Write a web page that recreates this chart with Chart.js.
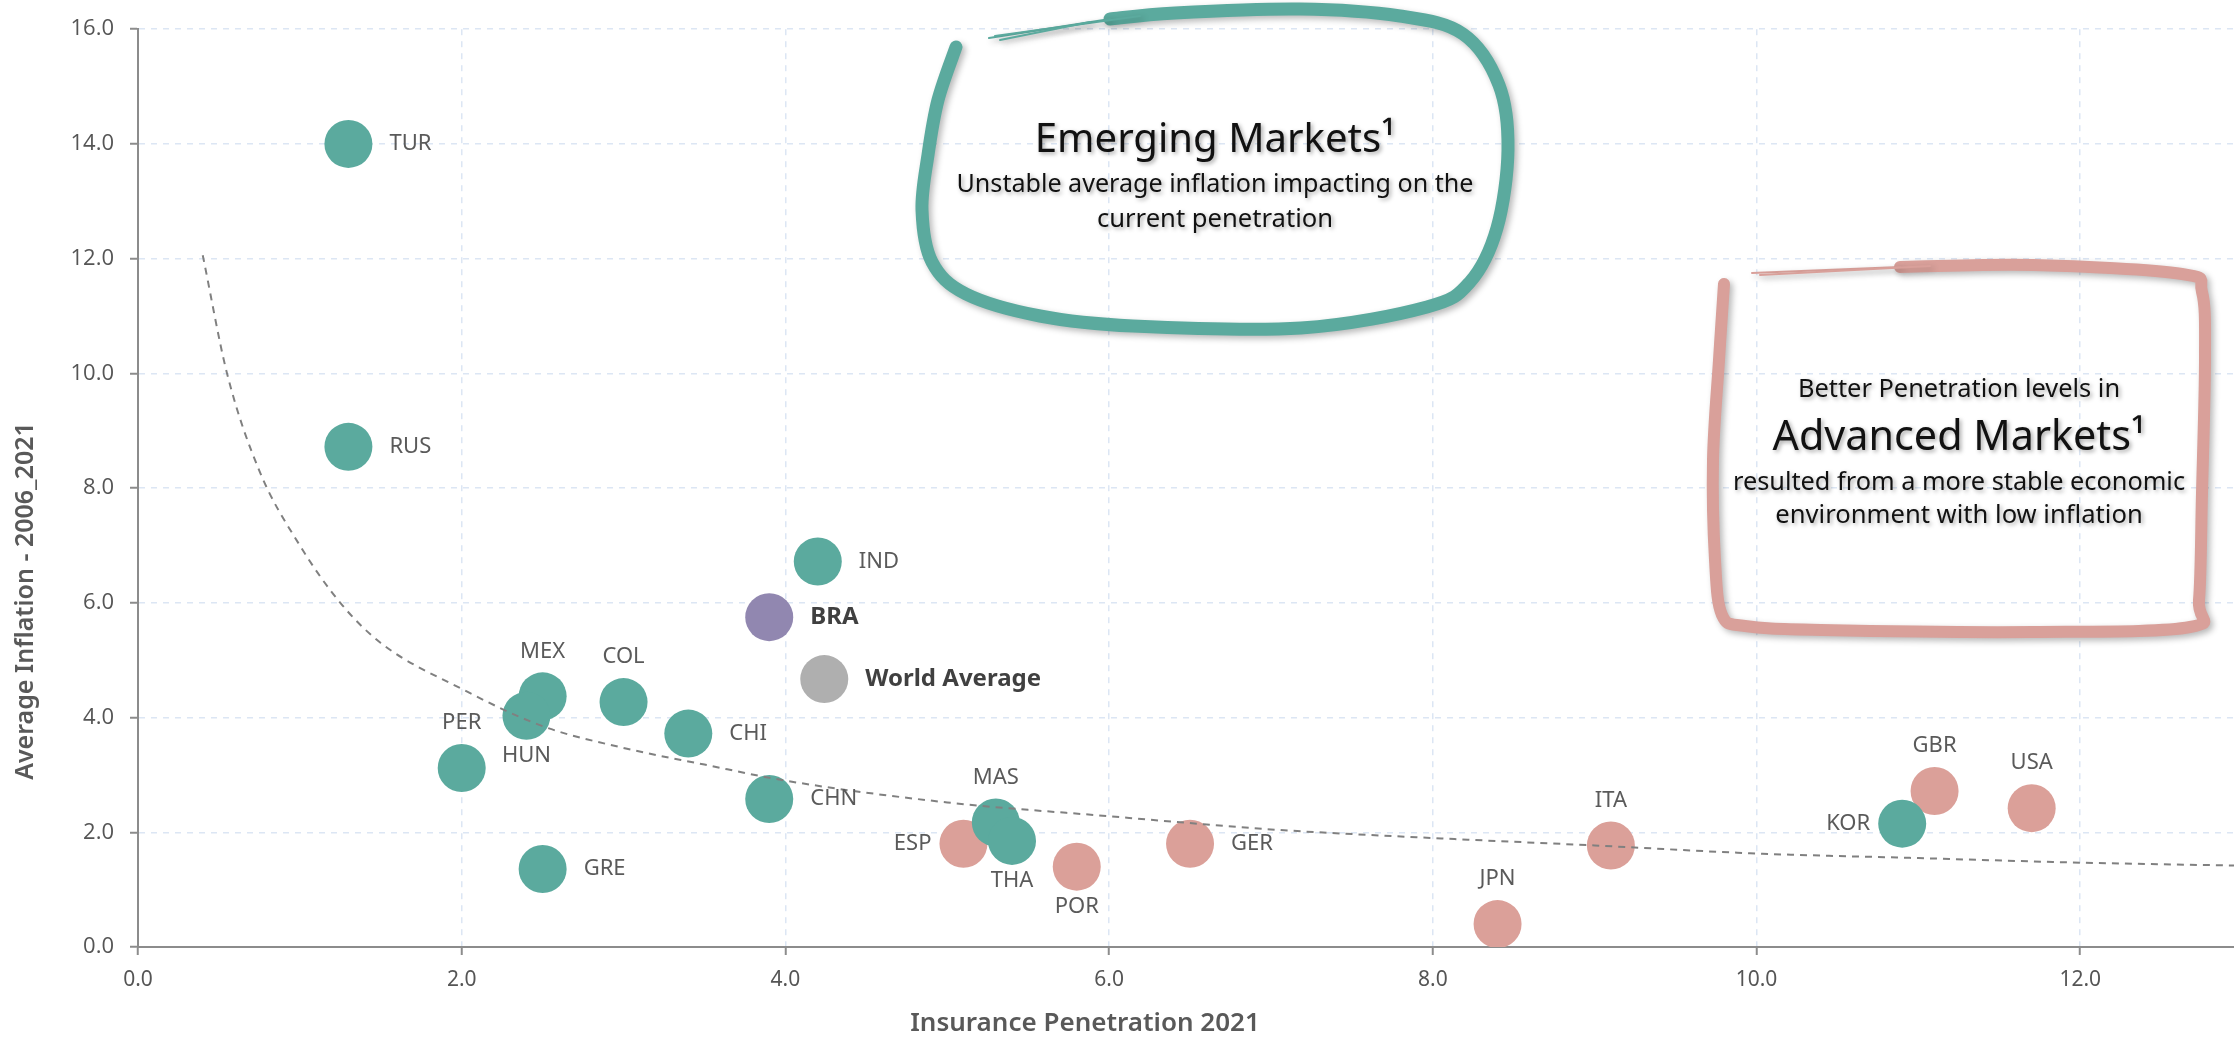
<!DOCTYPE html>
<html>
<head>
<meta charset="utf-8">
<script src="https://cdn.jsdelivr.net/npm/chart.js@4.4.0/dist/chart.umd.min.js"></script>
<style>
  html, body { margin: 0; padding: 0; background: #fff; overflow: hidden; }
  #wrap { width: 2234px; height: 1037px; position: relative; }
</style>
</head>
<body>
<div id="wrap"><canvas id="myChart"></canvas></div>
<script>
// countries and their values
const countries   = ['TUR', 'RUS', 'IND', 'BRA', 'World Average', 'MEX', 'HUN', 'COL', 'CHI', 'PER', 'GRE', 'CHN', 'MAS', 'THA', 'KOR',
                     'ESP', 'POR', 'GER', 'JPN', 'ITA', 'GBR', 'USA'];
const penetration = [1.3, 1.3, 4.2, 3.9, 4.24, 2.5, 2.4, 3.0, 3.4, 2.0, 2.5, 3.9, 5.3, 5.4, 10.9,
                     5.1, 5.8, 6.5, 8.4, 9.1, 11.1, 11.7];
const inflation   = [14.0, 8.72, 6.72, 5.75, 4.67, 4.37, 4.03, 4.27, 3.72, 3.12, 1.36, 2.58, 2.17, 1.85, 2.15,
                     1.80, 1.40, 1.80, 0.40, 1.77, 2.72, 2.42];
const groups      = ['EM', 'EM', 'EM', 'BRA', 'WORLD', 'EM', 'EM', 'EM', 'EM', 'EM', 'EM', 'EM', 'EM', 'EM', 'EM',
                     'AM', 'AM', 'AM', 'AM', 'AM', 'AM', 'AM'];

// dashed trend curve
const trendX = [0.40, 0.55, 0.75, 1.0, 1.25, 1.5, 2.0, 2.5, 3.0, 3.5, 4.0, 5.0, 6.0, 7.0, 8.0, 9.0, 10.0, 11.0, 12.0, 12.95];
const trendY = [12.06, 10.0, 8.3, 7.0, 6.0, 5.3, 4.5, 3.85, 3.47, 3.18, 2.9, 2.52, 2.28, 2.05, 1.9, 1.77, 1.63, 1.55, 1.47, 1.42];

const xMax = 12.95;
const yMax = 16;
const tickStep = 2;

const colors = { EM: '#5BAA9E', AM: '#DBA099', BRA: '#9187B0', WORLD: '#AFAFAF' };

// where each label sits relative to its bubble
const labelSide = {
  TUR: 'right', RUS: 'right', IND: 'right', BRA: 'right', 'World Average': 'right', CHI: 'right', CHN: 'right', GRE: 'right', GER: 'right',
  MEX: 'above', COL: 'above', PER: 'above', MAS: 'above', ITA: 'above', JPN: 'above', GBR: 'above', USA: 'above',
  HUN: 'below', THA: 'below', POR: 'below',
  ESP: 'left', KOR: 'left'
};

function pointsFor(group) {
  const out = [];
  countries.forEach((c, i) => {
    if (groups[i] === group) out.push({ x: penetration[i], y: inflation[i], name: c });
  });
  return out;
}

function smoothPath(ctx, pts) {
  ctx.beginPath();
  ctx.moveTo(pts[0][0], pts[0][1]);
  for (let i = 0; i < pts.length - 1; i++) {
    const p0 = pts[i - 1] || pts[i];
    const p1 = pts[i];
    const p2 = pts[i + 1];
    const p3 = pts[i + 2] || p2;
    ctx.bezierCurveTo(p1[0] + (p2[0] - p0[0]) / 6, p1[1] + (p2[1] - p0[1]) / 6,
                      p2[0] - (p3[0] - p1[0]) / 6, p2[1] - (p3[1] - p1[1]) / 6,
                      p2[0], p2[1]);
  }
}

// set a font so the text gets the given width
function fitFont(ctx, text, weight, family, width) {
  ctx.font = weight + ' 100px ' + family;
  const size = 100 * width / ctx.measureText(text).width;
  ctx.font = weight + ' ' + size.toFixed(1) + 'px ' + family;
}

const pointLabels = {
  id: 'pointLabels',
  afterDatasetsDraw(chart) {
    const ctx = chart.ctx;
    chart.data.datasets.forEach((ds, i) => {
      if (ds.type === 'line') return;
      const meta = chart.getDatasetMeta(i);
      meta.data.forEach((pt, j) => {
        const name = ds.data[j].name;
        const side = labelSide[name] || 'right';
        const bold = name === 'BRA' || name === 'World Average';
        ctx.save();
        ctx.font = bold ? 'bold 24px "Noto Sans"' : '22px "Noto Sans"';
        ctx.fillStyle = bold ? '#404040' : '#5a5a5a';
        ctx.textBaseline = 'middle';
        let x = pt.x, y = pt.y;
        if (side === 'right') { ctx.textAlign = 'left'; x += 41; }
        if (side === 'left') { ctx.textAlign = 'right'; x -= 32; }
        if (side === 'above') { ctx.textAlign = 'center'; y -= 45; }
        if (side === 'below') { ctx.textAlign = 'center'; y += 40; }
        ctx.fillText(name, x, y);
        ctx.restore();
      });
    });
  }
};

const frames = {
  id: 'frames',
  afterDatasetsDraw(chart) {
    const ctx = chart.ctx;
    ctx.save();
    ctx.lineCap = 'round';
    ctx.lineJoin = 'round';
    ctx.shadowColor = 'rgba(0,0,0,0.28)';
    ctx.shadowBlur = 6;
    ctx.shadowOffsetX = 3;
    ctx.shadowOffsetY = 3;

    // emerging markets bubble
    ctx.strokeStyle = '#5BAA9E';
    ctx.lineWidth = 13;
    smoothPath(ctx, [[956, 47], [938, 100], [928, 155], [922, 210], [932, 262], [966, 294], [1040, 316], [1133, 326],
                     [1301, 328], [1427, 307], [1470, 282], [1497, 228], [1508, 150], [1499, 85], [1463, 34], [1400, 16],
                     [1300, 9], [1175, 13], [1110, 19]]);
    ctx.stroke();
    ctx.lineWidth = 2;
    [[1110, 19, 989, 38], [1140, 16, 995, 36], [1090, 22, 1000, 40]].forEach(l => {
      ctx.beginPath(); ctx.moveTo(l[0], l[1]); ctx.lineTo(l[2], l[3]); ctx.stroke();
    });

    // advanced markets frame
    ctx.strokeStyle = '#D9A09A';
    ctx.lineWidth = 12;
    smoothPath(ctx, [[1724, 284], [1719, 360], [1713, 460], [1715, 560], [1722, 615], [1745, 626], [1821, 630], [2033, 632],
                     [2190, 627], [2199, 600], [2202, 493], [2205, 360], [2202, 292], [2182, 274], [2033, 265], [1900, 267]]);
    ctx.stroke();
    ctx.lineWidth = 2;
    [[1900, 267, 1752, 273], [1930, 266, 1760, 275]].forEach(l => {
      ctx.beginPath(); ctx.moveTo(l[0], l[1]); ctx.lineTo(l[2], l[3]); ctx.stroke();
    });
    ctx.restore();

    // frame texts
    ctx.save();
    ctx.fillStyle = '#111';
    ctx.textAlign = 'center';
    ctx.textBaseline = 'alphabetic';
    ctx.shadowColor = 'rgba(0,0,0,0.35)';
    ctx.shadowBlur = 4;
    ctx.shadowOffsetX = 2;
    ctx.shadowOffsetY = 2;
    const fam = '"Noto Sans"';
    [
      ['Emerging Markets¹', 1215, 152, 361],
      ['Unstable average inflation impacting on the', 1215, 192, 518],
      ['current penetration', 1215, 227, 236],
      ['Better Penetration levels in', 1959, 397, 322],
      ['Advanced Markets¹', 1959, 450, 373],
      ['resulted from a more stable economic', 1959, 490, 452],
      ['environment with low inflation', 1959, 523, 367]
    ].forEach(t => {
      fitFont(ctx, t[0], 'normal', fam, t[3]);
      ctx.fillText(t[0], t[1], t[2]);
    });
    ctx.restore();
  }
};

const axisTitles = {
  id: 'axisTitles',
  afterDraw(chart) {
    const ctx = chart.ctx;
    ctx.save();
    ctx.fillStyle = '#595959';
    ctx.textAlign = 'center';
    ctx.textBaseline = 'alphabetic';
    fitFont(ctx, 'Insurance Penetration 2021', '600', '"Noto Sans"', 350);
    ctx.fillText('Insurance Penetration 2021', 1085, 1031);
    ctx.translate(33, 601);
    ctx.rotate(-Math.PI / 2);
    fitFont(ctx, 'Average Inflation - 2006_2021', '600', '"Noto Sans"', 358);
    ctx.fillText('Average Inflation - 2006_2021', 0, 0);
    ctx.restore();
  }
};

const evenTicks = axis => { axis.ticks = axis.ticks.filter(t => Math.abs(t.value / tickStep - Math.round(t.value / tickStep)) < 1e-6); };

const bubble = group => ({
  type: 'scatter',
  data: pointsFor(group),
  backgroundColor: colors[group],
  borderWidth: 0,
  pointRadius: 24,
  pointHoverRadius: 24,
  order: 1
});

Chart.defaults.font.family = '"Noto Sans"';

new Chart(document.getElementById('myChart'), {
  type: 'scatter',
  data: {
    datasets: [
      {
        type: 'line',
        data: trendX.map((x, i) => ({ x: x, y: trendY[i] })),
        borderColor: '#808080',
        borderWidth: 2,
        borderDash: [7, 6],
        pointRadius: 0,
        fill: false,
        cubicInterpolationMode: 'monotone',
        order: 0
      },
      bubble('EM'),
      bubble('AM'),
      bubble('BRA'),
      bubble('WORLD')
    ]
  },
  options: {
    responsive: true,
    maintainAspectRatio: false,
    animation: false,
    layout: { autoPadding: false, padding: { top: 24, left: 0, right: 0, bottom: 0 } },
    plugins: {
      legend: { display: false },
      tooltip: { enabled: false }
    },
    scales: {
      x: {
        type: 'linear',
        min: 0,
        max: xMax,
        afterBuildTicks: evenTicks,
        afterFit: scale => { scale.height = 90; },
        ticks: {
          stepSize: tickStep,
          padding: 12,
          color: '#555',
          font: { size: 21 },
          callback: v => v.toFixed(1)
        },
        grid: { color: '#dce6f4', lineWidth: 1.5, tickColor: '#8c8c8c', tickLength: 8, tickWidth: 2 },
        border: { display: true, color: '#8c8c8c', width: 2, dash: [6, 6] }
      },
      y: {
        type: 'linear',
        min: 0,
        max: yMax,
        afterBuildTicks: evenTicks,
        afterFit: scale => { scale.width = 138; },
        ticks: {
          stepSize: tickStep,
          padding: 16,
          color: '#555',
          font: { family: '"Open Sans"', size: 22 },
          callback: v => v.toFixed(1)
        },
        grid: { color: '#dce6f4', lineWidth: 1.5, tickColor: '#8c8c8c', tickLength: 8, tickWidth: 2 },
        border: { display: true, color: '#8c8c8c', width: 2, dash: [6, 6] }
      }
    }
  },
  plugins: [frames, pointLabels, axisTitles]
});
</script>
</body>
</html>
